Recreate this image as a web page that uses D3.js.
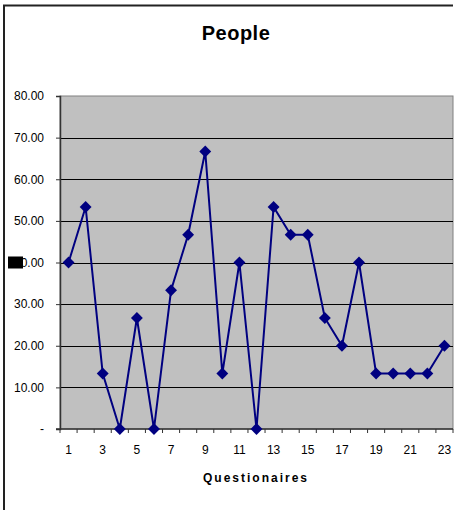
<!DOCTYPE html>
<html>
<head>
<meta charset="utf-8">
<script src="https://cdn.jsdelivr.net/npm/d3@7"></script>
<style>
  html, body { margin: 0; padding: 0; background: #fff; }
  svg { display: block; }
  text { font-family: Arial, "Liberation Sans", sans-serif; fill: #000; }
</style>
</head>
<body>
<svg id="chart" width="462" height="510"></svg>
<script>
// Share of people per questionnaire (%)
const questionnaires = d3.range(1, 24);
const people = [40.00, 53.33, 13.33, 0.00, 26.67, 0.00, 33.33, 46.67, 66.67, 13.33,
                40.00, 0.00, 53.33, 46.67, 46.67, 26.67, 20.00, 40.00, 13.33, 13.33,
                13.33, 13.33, 20.00];
const yTicks = [0, 10, 20, 30, 40, 50, 60, 70, 80];
const xLabels = questionnaires.filter(q => q % 2 === 1);

const svg = d3.select("#chart");
const plot = { left: 60, top: 96, right: 453, bottom: 429 };

// chart frame (left and top edges)
svg.append("path")
  .attr("d", `M4,510 V5.5 H453`)
  .attr("fill", "none").attr("stroke", "#222").attr("stroke-width", 2);

const x = d3.scaleBand().domain(questionnaires).range([plot.left, plot.right]);
const y = d3.scaleLinear().domain([0, 80]).range([plot.bottom, plot.top]);

// plot area
svg.append("rect")
  .attr("x", plot.left).attr("y", plot.top)
  .attr("width", plot.right - plot.left).attr("height", plot.bottom - plot.top)
  .attr("fill", "#c0c0c0").attr("stroke", "#808080").attr("stroke-width", 1);

// horizontal gridlines
svg.append("g").selectAll("line")
  .data(yTicks.filter(t => t > 0 && t < 80))
  .join("line")
  .attr("x1", plot.left).attr("x2", plot.right)
  .attr("y1", d => Math.round(y(d)) + 0.5).attr("y2", d => Math.round(y(d)) + 0.5)
  .attr("stroke", "#000").attr("stroke-width", 1);

// y axis
const yAxis = d3.axisLeft(y).tickValues(yTicks).tickSize(4).tickPadding(12)
  .tickFormat(d => d === 0 ? "-" : d3.format(".2f")(d));
const gy = svg.append("g").attr("transform", `translate(${plot.left},0)`).call(yAxis);
gy.select(".domain").attr("stroke", "#333").attr("stroke-width", 1.5);
gy.selectAll(".tick line").attr("stroke", "#333");
gy.selectAll(".tick text").style("font-size", "12px").attr("fill", "#000");

// x axis: ticks between categories, labels on odd questionnaires
const boundaries = questionnaires.map(q => x(q)).concat([plot.right]);
const gx = svg.append("g");
gx.append("line")
  .attr("x1", plot.left - 4).attr("x2", plot.right)
  .attr("y1", plot.bottom).attr("y2", plot.bottom)
  .attr("stroke", "#333").attr("stroke-width", 1.5);
gx.selectAll("line.tk").data(boundaries).join("line").attr("class", "tk")
  .attr("x1", d => d).attr("x2", d => d)
  .attr("y1", plot.bottom).attr("y2", plot.bottom + 4)
  .attr("stroke", "#333");
gx.selectAll("text").data(xLabels).join("text")
  .attr("x", d => x(d) + x.bandwidth() / 2)
  .attr("y", 454)
  .attr("text-anchor", "middle")
  .style("font-size", "12px")
  .text(d => d);

// series line and diamond markers
const cx = d => x(d) + x.bandwidth() / 2;
const line = d3.line().x((d, i) => cx(questionnaires[i])).y(d => y(d));
svg.append("path").datum(people)
  .attr("d", line).attr("fill", "none")
  .attr("stroke", "#000080").attr("stroke-width", 2);

const diamond = d3.symbol().type(d3.symbolDiamond2).size(90);
svg.append("g").selectAll("path").data(people).join("path")
  .attr("transform", (d, i) => `translate(${cx(questionnaires[i])},${y(d)})`)
  .attr("d", diamond)
  .attr("fill", "#000080");

// titles
svg.append("text")
  .attr("x", 236).attr("y", 40).attr("text-anchor", "middle")
  .style("font-size", "20px").style("font-weight", "bold").style("letter-spacing", "0.5px")
  .text("People");
svg.append("text")
  .attr("x", 256).attr("y", 482).attr("text-anchor", "middle")
  .style("font-size", "12px").style("font-weight", "bold").style("letter-spacing", "2px")
  .text("Questionaires");

// black block over the leading digit of the 40.00 label
const y40 = y(40);
svg.append("rect")
  .attr("x", 8).attr("y", y40 - 6).attr("width", 15).attr("height", 12)
  .attr("fill", "#000");
</script>
</body>
</html>
